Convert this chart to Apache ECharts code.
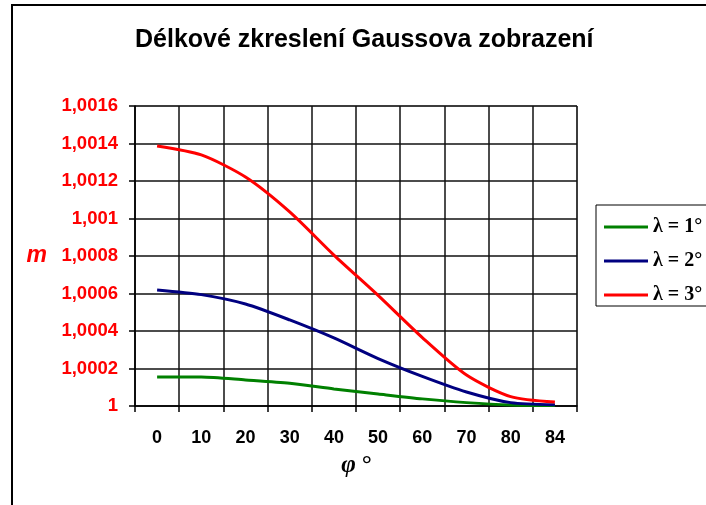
<!DOCTYPE html>
<html>
<head>
<meta charset="utf-8">
<script src="https://cdn.jsdelivr.net/npm/echarts@6/dist/echarts.min.js"></script>
<style>
  html, body { margin: 0; padding: 0; background: #fff; }
  #chart { width: 706px; height: 505px; }
</style>
</head>
<body>
<div id="chart"></div>
<script>
// zeměpisná šířka φ (°)
const categories = ['0', '10', '20', '30', '40', '50', '60', '70', '80', '84'];
const seriesNames = ['λ = 1°', 'λ = 2°', 'λ = 3°'];
// délkové zkreslení m
const lambda1 = [1.000155, 1.000155, 1.000139, 1.000121, 1.000091, 1.000064, 1.000038, 1.000018, 1.000005, 1.000002];
const lambda2 = [1.000619, 1.000594, 1.000544, 1.000459, 1.000363, 1.000253, 1.000158, 1.000075, 1.000018, 1.000007];
const lambda3 = [1.001387, 1.001339, 1.001221, 1.001035, 1.000805, 1.000590, 1.000365, 1.000165, 1.000050, 1.000021];
const colors = ['#008000', '#000080', '#ff0000'];

function initChart() {
    const chart = echarts.init(document.getElementById('chart'));
    const data = [lambda1, lambda2, lambda3];

    const option = {
        animation: false,
        graphic: [{
            type: 'rect',
            shape: { x: 12, y: 5, width: 800, height: 600 },
            style: { fill: 'none', stroke: '#000', lineWidth: 2 },
            z: -1
        }],
        title: {
            text: 'Délkové zkreslení Gaussova zobrazení',
            left: 135,
            top: 28,
            padding: 0,
            textStyle: { fontFamily: 'Liberation Sans', fontSize: 25, fontWeight: 'bold', color: '#000' }
        },
        legend: {
            orient: 'vertical',
            left: 596,
            top: 205,
            itemWidth: 44,
            itemHeight: 3,
            itemGap: 14,
            padding: [12, 24, 1, 8],
            borderColor: '#000',
            borderWidth: 1,
            icon: 'rect',
            textStyle: { fontFamily: 'Liberation Serif', fontSize: 20, fontWeight: 'bold', color: '#000' },
            data: seriesNames
        },
        grid: { left: 135, right: 129, top: 106, bottom: 99, show: true, borderColor: '#808080', borderWidth: 1 },
        xAxis: {
            type: 'category',
            data: categories,
            boundaryGap: true,
            name: 'φ\u2009°',
            nameLocation: 'middle',
            nameGap: 47,
            nameTextStyle: { fontFamily: 'Liberation Serif', fontSize: 25, fontStyle: 'italic', fontWeight: 'bold', color: '#000' },
            axisLine: { lineStyle: { color: '#000', width: 1.5 } },
            axisTick: { show: true, length: 6, lineStyle: { color: '#000', width: 1.5 } },
            axisLabel: { margin: 23, fontFamily: 'Liberation Sans', fontSize: 18, fontWeight: 'bold', color: '#000' },
            splitLine: { show: true, lineStyle: { color: '#111', width: 1.5 } }
        },
        yAxis: {
            type: 'value',
            min: 1,
            max: 1.0016,
            interval: 0.0002,
            name: 'm',
            nameLocation: 'middle',
            nameRotate: 0,
            nameGap: 88,
            nameTextStyle: { fontFamily: 'Liberation Sans', fontSize: 23, fontStyle: 'italic', fontWeight: 'bold', color: '#ff0000' },
            axisLine: { show: true, lineStyle: { color: '#000', width: 1.5 } },
            axisTick: { show: true, length: 6, lineStyle: { color: '#000', width: 1.5 } },
            axisLabel: {
                margin: 17,
                fontFamily: 'Liberation Sans', fontSize: 18.5, fontWeight: 'bold', color: '#ff0000',
                formatter: v => String(+v.toFixed(4)).replace('.', ',')
            },
            splitLine: { show: true, lineStyle: { color: '#111', width: 1.5 } }
        },
        series: seriesNames.map((name, i) => ({
            name: name,
            type: 'line',
            data: data[i],
            smooth: 0.25,
            showSymbol: false,
            lineStyle: { color: colors[i], width: 3 },
            itemStyle: { color: colors[i] }
        }))
    };

    chart.setOption(option);
    window.addEventListener('resize', () => chart.resize());
}

document.addEventListener('DOMContentLoaded', initChart);
</script>
</body>
</html>
